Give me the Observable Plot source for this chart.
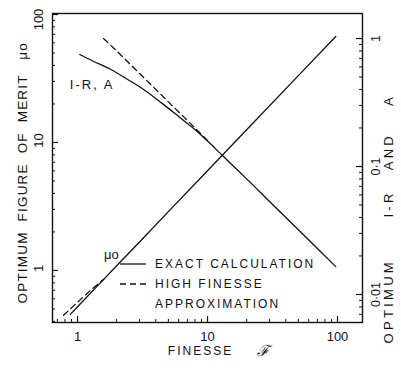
<!DOCTYPE html>
<html><head><meta charset="utf-8">
<script src="https://cdn.jsdelivr.net/npm/d3@7"></script>
<script src="https://cdn.jsdelivr.net/npm/@observablehq/plot@0.6"></script>
<style>
body{margin:0;background:#fff;}
#wrap{position:relative;width:401px;height:370px;font-family:"Liberation Sans",Arial,sans-serif;color:#111;}
#legend{position:absolute;left:118px;top:254px;font-size:12px;letter-spacing:2px;line-height:20px;}
#legend .row{display:flex;align-items:center;height:20px;}
#legend svg{width:32px;height:20px;margin-right:5px;}
</style></head><body><div id="wrap"><div id="legend"></div></div>
<script>
// Finesse values and curves
const muF        = [0.88, 1, 1.5, 2, 3, 5, 10, 20, 50, 97];
const muExact    = [0.454, 0.52, 0.80, 1.087, 1.67, 2.88, 6.01, 12.56, 33.3, 67.3];
const muApproxF  = [0.78, 1, 1.3, 1.6];
const muApprox   = [0.446, 0.565, 0.72, 0.857];
const lossF      = [1.04, 1.3, 1.79, 2.5, 3.22, 4.5, 5.88, 7.5, 8.83, 11.5, 15, 20, 30, 50, 70, 97];
const lossExact  = [0.75, 0.67, 0.575, 0.47, 0.40, 0.31, 0.25, 0.205, 0.178, 0.138, 0.106, 0.08, 0.0533, 0.032, 0.0229, 0.0165];
const lossApproxF = [1.585, 2, 3, 5, 7, 10];
const lossApprox  = [1.0, 0.8, 0.533, 0.32, 0.229, 0.16];

// axes
const xMajor = [1, 10, 100];
const xMinor = [0.7, 0.8, 0.9, 2, 3, 4, 5, 6, 7, 8, 9, 20, 30, 40, 50, 60, 70, 80, 90];
const yMajor = [1, 10, 100];
const yMinor = [0.4, 0.5, 0.6, 0.7, 0.8, 0.9, 2, 3, 4, 5, 6, 7, 8, 9, 20, 30, 40, 50, 60, 70, 80, 90];
const rMajor = [0.01, 0.1, 1];
const rMajorLabels = ["0·01", "0·1", "1"];
const rMinor = [0.007, 0.008, 0.009, 0.02, 0.03, 0.04, 0.05, 0.06, 0.07, 0.08, 0.09, 0.2, 0.3, 0.4, 0.5, 0.6, 0.7, 0.8, 0.9];
const R2L = 64.9; // right-axis value -> left-axis scale

// texts
const xTitle = "FINESSE";
const yTitle = "OPTIMUM  FIGURE  OF  MERIT   \u03bco";
const rTitle = "OPTIMUM      I-R   AND    A";
const lossLabel = "I-R, A";
const muLabel = "\u03bco";

const muRows = muF.map((f, i) => ({f, v: muExact[i]}));
const muARows = muApproxF.map((f, i) => ({f, v: muApprox[i]}));
const lossRows = lossF.map((f, i) => ({f, v: lossExact[i] * R2L}));
const lossARows = lossApproxF.map((f, i) => ({f, v: lossApprox[i] * R2L}));

const W = 401, H = 370, mL = 52, mR = 39, mT = 13, mB = 48;
const fw = W - mL - mR, fh = H - mT - mB;
const font = "Liberation Sans, Arial, sans-serif";

const chart = Plot.plot({
  width: W, height: H, marginLeft: mL, marginRight: mR, marginTop: mT, marginBottom: mB,
  x: {type: "log", domain: [0.642, 155.7], axis: null},
  y: {type: "log", domain: [0.392, 101.8], axis: null},
  style: {fontFamily: font, fontSize: "13px", color: "#111", background: "#fff"},
  marks: [
    Plot.frame({stroke: "#111", strokeWidth: 1.4}),
    // inward ticks
    Plot.tickY(yMajor, {y: d => d, insetRight: fw - 6, stroke: "#111", strokeWidth: 1.2}),
    Plot.tickY(yMinor, {y: d => d, insetRight: fw - 3, stroke: "#111"}),
    Plot.tickY(rMajor, {y: d => d * R2L, insetLeft: fw - 6, stroke: "#111", strokeWidth: 1.2}),
    Plot.tickY(rMinor, {y: d => d * R2L, insetLeft: fw - 3, stroke: "#111"}),
    Plot.tickX(xMajor, {x: d => d, insetTop: fh - 6, stroke: "#111", strokeWidth: 1.2}),
    Plot.tickX(xMinor, {x: d => d, insetTop: fh - 3, stroke: "#111"}),
    // curves
    Plot.line(muRows, {x: "f", y: "v", stroke: "#111", strokeWidth: 1.3}),
    Plot.line(muARows, {x: "f", y: "v", stroke: "#111", strokeWidth: 1.3, strokeDasharray: "6,4"}),
    Plot.line(lossRows, {x: "f", y: "v", stroke: "#111", strokeWidth: 1.3, curve: "monotone-x"}),
    Plot.line(lossARows, {x: "f", y: "v", stroke: "#111", strokeWidth: 1.3, strokeDasharray: "6,4"}),
    // tick labels
    Plot.text(xMajor, {x: d => d, frameAnchor: "bottom", dy: 18, text: d => String(d), fontSize: 13}),
    Plot.text(yMajor.slice(0, 2), {y: d => d, frameAnchor: "left", textAnchor: "middle", dx: -14, dy: -2, rotate: -90, text: d => String(d), fontSize: 13}),
    Plot.text(yMajor.slice(2), {y: d => d, frameAnchor: "left", textAnchor: "middle", dx: -14, dy: 5, rotate: -90, text: d => String(d), fontSize: 13}),
    Plot.text(rMajor, {y: d => d * R2L, frameAnchor: "right", textAnchor: "middle", dx: 13, rotate: -90, text: (d, i) => rMajorLabels[i], fontSize: 12.5}),
    // axis titles
    Plot.text([xTitle], {frameAnchor: "bottom", dx: -7, dy: 32, text: d => d, fontSize: 12}),
    Plot.text(["\u2131"], {frameAnchor: "bottom", dx: 55, dy: 33, text: d => d, fontSize: 15, fontStyle: "italic"}),
    Plot.text([yTitle], {frameAnchor: "bottom-left", textAnchor: "start", dx: -26, dy: -19, rotate: -90, text: d => d, fontSize: 13.5}),
    Plot.text([rTitle], {frameAnchor: "bottom-right", textAnchor: "start", dx: 30, dy: 21, rotate: -90, text: d => d, fontSize: 13}),
    // curve labels
    Plot.text([lossRows[2]], {x: "f", y: "v", text: () => lossLabel, textAnchor: "end", dx: 4, dy: 16, fontSize: 13}),
    Plot.text([muRows[3]], {x: "f", y: "v", text: () => muLabel, textAnchor: "end", dx: 2, dy: -11, fontSize: 13})
  ]
});
document.getElementById("wrap").prepend(chart);

// letter spacing and preserved spaces for the typewritten-looking labels
const spacing = new Map([[xTitle, "2px"], [yTitle, "1.2px"], [rTitle, "3.3px"], [lossLabel, "2px"]]);
d3.select(chart).selectAll("text").each(function () {
  const t = this.textContent;
  if (spacing.has(t)) {
    this.style.letterSpacing = spacing.get(t);
    this.style.whiteSpace = "pre";
  }
});

// legend
const legendItems = [
  {dash: null, label: "EXACT CALCULATION"},
  {dash: "6,4", label: "HIGH FINESSE"},
  {dash: "none-line", label: "APPROXIMATION"}
];
const lg = document.getElementById("legend");
legendItems.forEach(it => {
  const row = document.createElement("div");
  row.className = "row";
  const s = d3.create("svg").attr("viewBox", "0 0 32 20");
  if (it.dash !== "none-line") {
    s.append("line").attr("x1", 2).attr("x2", 28).attr("y1", 10).attr("y2", 10)
      .attr("stroke", "#111").attr("stroke-width", 1.3)
      .attr("stroke-dasharray", it.dash);
  }
  row.appendChild(s.node());
  const t = document.createElement("span");
  t.textContent = it.label;
  row.appendChild(t);
  lg.appendChild(row);
});
</script>
</body></html>
